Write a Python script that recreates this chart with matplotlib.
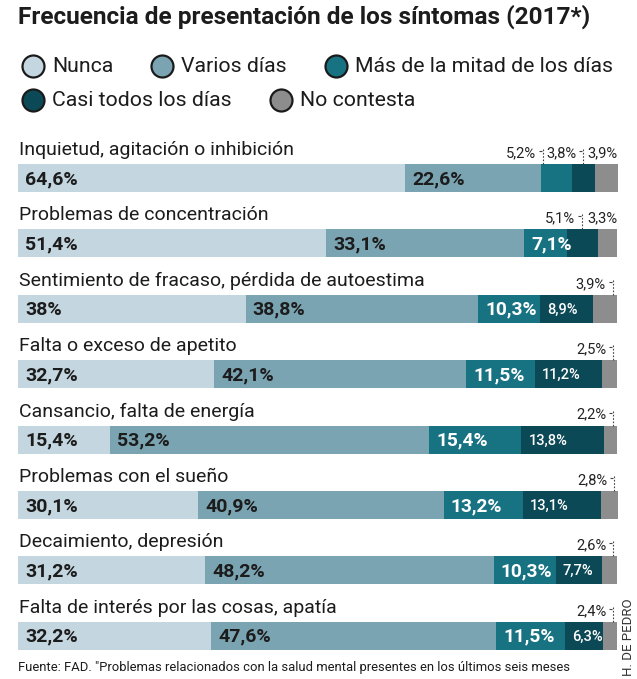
import matplotlib
matplotlib.use("Agg")
import matplotlib.pyplot as plt
import numpy as np

plt.rcParams["font.family"] = ["Roboto", "DejaVu Sans"]

# ---- DATA ----
symptoms = [
    "Inquietud, agitación o inhibición",
    "Problemas de concentración",
    "Sentimiento de fracaso, pérdida de autoestima",
    "Falta o exceso de apetito",
    "Cansancio, falta de energía",
    "Problemas con el sueño",
    "Decaimiento, depresión",
    "Falta de interés por las cosas, apatía",
]
nunca = [64.6, 51.4, 38.0, 32.7, 15.4, 30.1, 31.2, 32.2]
varios = [22.6, 33.1, 38.8, 42.1, 53.2, 40.9, 48.2, 47.6]
mitad = [5.2, 7.1, 10.3, 11.5, 15.4, 13.2, 10.3, 11.5]
casi = [3.8, 5.1, 8.9, 11.2, 13.8, 13.1, 7.7, 6.3]
no_contesta = [3.9, 3.3, 3.9, 2.5, 2.2, 2.8, 2.6, 2.4]
series_names = ["Nunca", "Varios días", "Más de la mitad de los días",
                "Casi todos los días", "No contesta"]

# ---- STYLE ----
colors = ["#c4d6e0", "#7aa4b2", "#177282", "#0c4956", "#8d8d8d"]
dark = "#1c1c1c"
W, H = 637, 679
row_step = 65.4
first_center = 178
bar_px = 28
PT = 0.72  # points per pixel at dpi 100


def fmt(v):
    return f"{v:g}".replace(".", ",") + "%"


fig = plt.figure(figsize=(W / 100, H / 100), dpi=100)

# overlay axes in pixel units for title / legend / notes
ov = fig.add_axes([0, 0, 1, 1])
ov.set_xlim(0, W)
ov.set_ylim(H, 0)
ov.axis("off")

ov.text(18, 17, "Frecuencia de presentación de los síntomas (2017*)",
        fontsize=17.6, fontweight="bold", color=dark, va="center", ha="left")

# ---- LEGEND ----
fig.canvas.draw()
renderer = fig.canvas.get_renderer()
legend_rows = [[0, 1, 2], [3, 4]]
legend_y = [66, 100]
for row, ly in zip(legend_rows, legend_y):
    x = 33
    for k in row:
        ov.scatter([x], [ly], s=(22 * PT) ** 2, color=colors[k],
                   edgecolor="#1a1a1a", linewidth=2.2 * PT, zorder=3)
        t = ov.text(x + 19, ly + 1, series_names[k], fontsize=15.3, color=dark,
                    va="center", ha="left")
        bb = t.get_window_extent(renderer)
        x = x + 19 + bb.width + 49

# ---- BARS ----
n = len(symptoms)
bottom = first_center + (n - 0.5) * row_step
top = first_center - 0.5 * row_step
ax = fig.add_axes([18 / W, 1 - bottom / H, 600 / W, (bottom - top) / H])
xmax = 100.1
ax.set_xlim(0, xmax)
ax.set_ylim(n - 0.5, -0.5)
ax.axis("off")
bar_h = bar_px / row_step
dx = xmax / 600  # data units per pixel (x)
dy = 1 / row_step  # data units per pixel (y)

series = [nunca, varios, mitad, casi, no_contesta]
y = np.arange(n)
lefts = np.zeros(n)
starts = []
for vals, c in zip(series, colors):
    ax.barh(y, vals, left=lefts, height=bar_h, color=c, linewidth=0)
    starts.append(lefts.copy())
    lefts = lefts + np.array(vals)

inside_style = {
    0: dict(fontsize=14, fontweight="bold", color=dark),
    1: dict(fontsize=14, fontweight="bold", color=dark),
    2: dict(fontsize=13.8, fontweight="bold", color="white"),
    3: dict(fontsize=10.5, fontweight="medium", color="white"),
}
leader_frac = {2: 0.06, 3: 0.5}

for i in range(n):
    bar_top = i - bar_h / 2
    ax.text(0.2, bar_top - 9 * dy, symptoms[i], fontsize=14, color=dark,
            ha="left", va="baseline")
    outside = []
    for s, vals in enumerate(series):
        v = vals[i]
        x0 = starts[s][i]
        if s < 4 and v >= 6:
            ax.text(x0 + 7 * dx, i + 1 * dy, fmt(v), ha="left", va="center",
                    **inside_style[s])
        else:
            outside.append(s)
    for s in outside:
        v = series[s][i]
        x0 = starts[s][i]
        x1 = x0 + v
        base = bar_top - 7 * dy
        if s == 4 and len(outside) > 1:
            ax.text(x1, base, fmt(v), fontsize=10.6, color="#222222",
                    ha="right", va="baseline")
            continue
        if s == 4:
            lx = x1 - 4 * dx
        else:
            lx = x0 + leader_frac[s] * v
        ax.text(lx - 7 * dx, base, fmt(v), fontsize=10.6, color="#222222",
                ha="right", va="baseline")
        mid = bar_top - 13 * dy
        ax.plot([lx - 4 * dx, lx - 1 * dx], [mid, mid], color="#444444",
                lw=0.8, solid_capstyle="butt")
        ax.plot([lx, lx], [bar_top - 15 * dy, bar_top], color="#444444",
                lw=0.8, linestyle=(0, (1.5, 1.5)))

# ---- NOTES ----
ov.text(18, 668, "Fuente: FAD. \"Problemas relacionados con la salud mental "
        "presentes en los últimos seis meses", fontsize=9.4, color=dark,
        ha="left", va="center")
ov.text(628, 637, "H. DE PEDRO", fontsize=9.5, color="#333333", rotation=90,
        ha="center", va="center")

fig.savefig("out.png", dpi=100)
